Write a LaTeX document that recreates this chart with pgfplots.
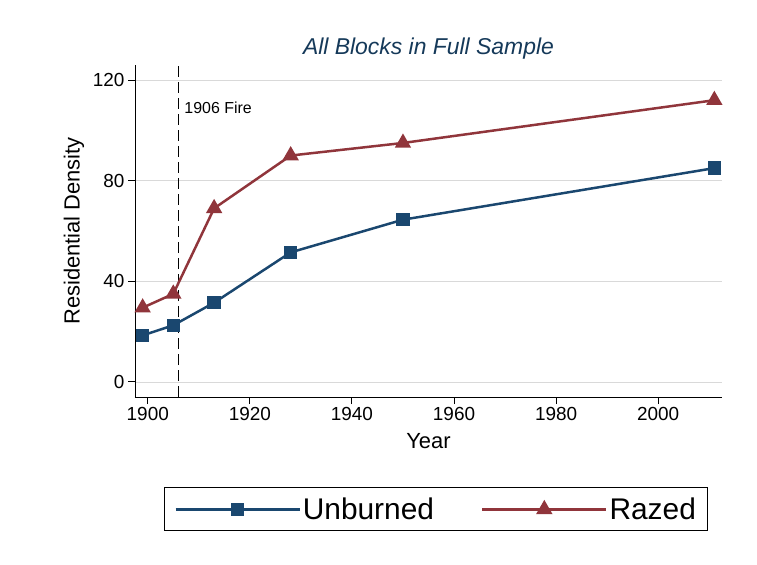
\documentclass[border=0pt]{standalone}
\usepackage{pgfplots}
\pgfplotsset{compat=1.18}
\usepackage{fontspec}
\setmainfont{Liberation Sans}
\definecolor{cblue}{RGB}{26,71,111}
\definecolor{cred}{RGB}{144,53,59}
\begin{document}
\begin{tikzpicture}
\useasboundingbox (-135bp,-168bp) rectangle (622bp,397bp);
\begin{axis}[
  scale only axis, width=587bp, height=332bp,
  xmin=1897.5, xmax=2012.5, ymin=-6, ymax=126,
  axis lines=left, axis line style={-, line width=1pt},
  xtick={1900,1920,...,2000}, ytick={0,40,80,120},
  ymajorgrids, grid style={gray!30, line width=0.8pt},
  tick style={black, line width=1pt}, tick align=outside, major tick length=7bp,
  xticklabel style={/pgf/number format/1000 sep={}},
  /pgf/number format/assume math mode=true,
  ticklabel style={font=\fontsize{19}{22}\selectfont},
  xlabel={Year}, ylabel={Residential Density},
  label style={font=\fontsize{22}{26}\selectfont},
  xlabel style={yshift=-6bp}, ylabel style={yshift=2bp},
  title={\itshape All Blocks in Full Sample},
  title style={font=\fontsize{23}{27}\selectfont, text=cblue!80!black, yshift=-4bp},
  legend columns=2,
  legend style={at={(0.513,-0.272)}, anchor=north, draw=black, line width=1pt,
    font=\fontsize{30}{34}\selectfont, inner xsep=10bp, inner ysep=8bp,
    /tikz/every even column/.append style={column sep=45bp}},
  legend image code/.code={\draw[mark repeat=2,mark phase=2,#1] plot coordinates {(0bp,0bp)(62bp,0bp)(124bp,0bp)};},
]
\draw[dashed, dash pattern=on 11bp off 5bp, line width=1.2pt] (axis cs:1906,-6) -- (axis cs:1906,126);
\node[anchor=west, font=\fontsize{16}{19}\selectfont] at (axis cs:1906.5,109) {1906 Fire};
\addplot[cblue, line width=2.5pt, mark=square*, mark size=5.5bp, mark options={solid}]
 coordinates {(1899,18.5)(1905,22.5)(1913,31.5)(1928,51.5)(1950,64.5)(2011,85)};
\addlegendentry{Unburned}
\addplot[cred, line width=2.5pt, mark=triangle*, mark size=7bp, mark options={solid}]
 coordinates {(1899,29.5)(1905,35)(1913,69)(1928,90)(1950,95)(2011,112)};
\addlegendentry{Razed}
\end{axis}
\end{tikzpicture}
\end{document}
